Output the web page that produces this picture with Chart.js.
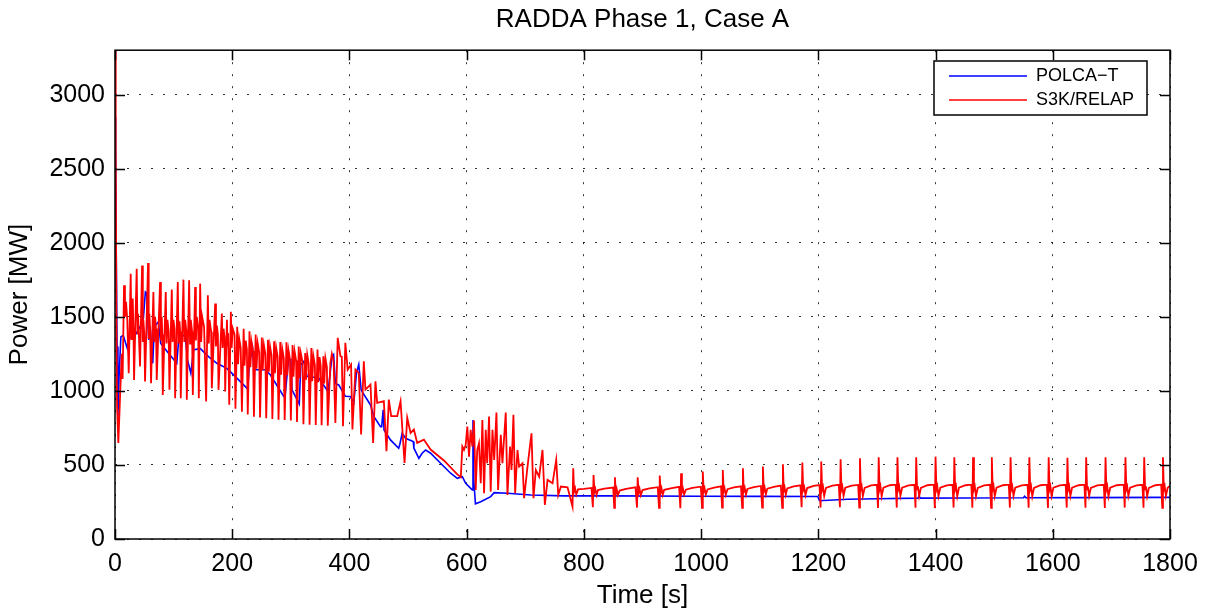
<!DOCTYPE html>
<html>
<head>
<meta charset="utf-8">
<title>RADDA Phase 1, Case A</title>
<script src="https://cdn.jsdelivr.net/npm/chart.js@4.4.1/dist/chart.umd.min.js"></script>
<style>
  html, body { margin: 0; padding: 0; background: #fff; }
  #wrap { width: 1210px; height: 614px; }
</style>
</head>
<body>
<div id="wrap"><canvas id="chart" width="1210" height="614"></canvas></div>
<script>
const FONT = "'Liberation Sans', Arial, Helvetica, sans-serif";
const TITLE = "RADDA Phase 1, Case A";
const X_LABEL = "Time [s]";
const Y_LABEL = "Power [MW]";
const SERIES_NAMES = ["POLCA\u2212T", "S3K/RELAP"];
const SERIES_COLORS = ["#0000ff", "#ff0000"];

const X_TICKS = [0, 200, 400, 600, 800, 1000, 1200, 1400, 1600, 1800];
const Y_TICKS = [0, 500, 1000, 1500, 2000, 2500, 3000];

// [time s, power MW]
const POLCA_T = [
  [0, 2848], [1, 2620], [2, 2000], [3.5, 1300], [5, 827], [7, 1100], [10, 1365], [14, 1376],
  [21, 1287], [24, 1365], [31, 1355], [43, 1433], [48.4, 1489], [51.8, 1668], [54, 1660],
  [57.5, 1343], [60, 1433], [64.4, 1186], [67, 1433], [74, 1466], [78, 1320], [90, 1260],
  [105.4, 1186], [109, 1365], [119.7, 1376], [123.7, 1209], [129.4, 1119], [134, 1276],
  [145.3, 1287], [159.5, 1231], [173.8, 1186], [190.9, 1152], [205, 1098], [226.7, 1012],
  [229, 1177], [234.6, 1290], [237, 1143], [256, 1143], [265, 1109], [288, 962], [290, 955],
  [296, 1211], [300, 1211], [302, 1007], [314.4, 912], [317, 1177], [322, 1199], [327.6, 1098],
  [347.5, 1087], [363.5, 996], [370.3, 1233], [373, 1245], [376, 1050], [381.7, 1040],
  [393, 964], [401.6, 962], [407.4, 919], [412, 1122], [415.9, 1178], [419.9, 1009],
  [421.6, 995], [436, 905], [441.6, 827], [453, 759], [455, 759], [457.5, 872], [459, 736],
  [470, 669], [484, 613], [486, 640], [490, 714], [495.7, 680], [508.8, 658], [510, 613],
  [518.5, 545], [524, 579], [530, 601], [538.5, 579], [555.5, 511], [572.6, 444], [584, 410],
  [592.6, 421], [598.3, 376], [604, 354], [609.7, 331], [610.8, 804], [612, 400], [615, 238],
  [624, 252], [641, 286], [646.8, 313], [669.6, 309], [709.5, 297], [766, 291], [846, 291],
  [1000, 289], [1100, 288], [1199, 287], [1202, 258], [1250, 268], [1300, 272], [1370, 276],
  [1372, 290], [1374, 276], [1450, 277], [1550, 278], [1552, 288], [1554, 278], [1650, 279],
  [1800, 281]
];

const S3K_RELAP = [
  [0, 2900], [0.8, 3600], [1.6, 2620], [2.5, 1400], [3.5, 900], [5.7, 648], [9, 1000],
  [11.5, 1250], [13, 1080], [15.4, 1713], [17, 1500], [18.8, 1601], [21, 1478], [23.4, 1119],
  [26.8, 1791], [28, 1350], [29, 1560], [30.2, 1623], [31.5, 1420], [32.5, 1074],
  [37, 1825], [38.5, 1380], [39.3, 1520], [41, 1350], [42.7, 1164],
  [46.2, 1847], [47.5, 1330], [48.4, 1480], [50, 1380], [51.3, 1063],
  [56.4, 1863], [57.5, 1350], [58.7, 1520], [60, 1400], [61.5, 1052],
  [65.5, 1668], [67, 1330], [68.4, 1500], [70, 1420], [71.2, 1074],
  [76.9, 1735], [78.3, 1340], [79.8, 1500], [80.6, 1380], [81.5, 973],
  [86.6, 1668], [88, 1320], [89.5, 1480], [91.5, 1400], [92.9, 1007],
  [96.9, 1684], [98.3, 1330], [99.7, 1480], [101.5, 1420], [102.6, 951],
  [107.1, 1735], [108.5, 1320], [110, 1470], [111.2, 1400], [112.2, 951],
  [116.8, 1751], [118.2, 1330], [119.7, 1480], [121.5, 1410], [122.5, 940],
  [126.5, 1747], [128, 1320], [129.3, 1480], [131.5, 1400], [132.8, 973],
  [136.7, 1702], [138, 1340], [139.6, 1500], [142, 1420], [143, 951],
  [145.3, 1724], [147, 1330], [148.7, 1500], [152, 1430], [155.5, 928],
  [158.4, 1646], [160, 1320], [161.3, 1480], [164, 1400], [165.2, 1018],
  [170.9, 1590], [172.3, 1300], [173.8, 1440], [175.5, 1380], [176.6, 1007],
  [182.3, 1522], [183.7, 1290], [185.2, 1420], [187, 1360], [188, 996],
  [191, 1480], [192, 1300], [193, 1390], [194.9, 906],
  [197.7, 1534], [199, 1290], [201, 1420], [204, 1380], [205.5, 880],
  [208.5, 1432], [210, 1180], [212, 1350], [214.5, 1290], [216.5, 860],
  [219.5, 1420], [221, 1170], [223, 1340], [225, 1280], [226.5, 840],
  [229.5, 1403], [231, 1160], [233, 1330], [235.5, 1270], [237, 826],
  [240, 1380], [241.5, 1150], [243.5, 1320], [246, 1260], [247.5, 820],
  [250.5, 1360], [252, 1140], [254, 1310], [256.5, 1250], [258, 815],
  [261, 1345], [262.5, 1130], [264.5, 1300], [267, 1240], [268.5, 810],
  [271.5, 1335], [273, 1120], [275, 1290], [277.5, 1230], [279, 806],
  [282, 1330], [283.5, 1110], [285.5, 1280], [288, 1220], [289.5, 804],
  [292.5, 1328], [294, 1105], [296, 1275], [298.5, 1215], [300, 800],
  [303, 1310], [304.5, 1095], [306.5, 1265], [309, 1205], [310.5, 790],
  [313.5, 1300], [315, 1085], [317, 1255], [320, 1195], [321.5, 775],
  [324.5, 1256], [326, 1075], [328, 1245], [330.5, 1185], [332, 772],
  [335, 1290], [336.5, 1065], [338.5, 1235], [341, 1175], [342.5, 770],
  [345.5, 1280], [347, 1058], [349, 1228], [351, 1168], [352.5, 768],
  [355.5, 1233], [357, 1050], [359, 1220], [361.5, 1160], [363, 765],
  [367.5, 1189], [370, 1250], [373, 1200], [376, 784], [380, 1358], [384.6, 1234], [387, 1230],
  [389, 761], [393, 1324], [397, 1144], [402.8, 1178], [405.1, 739], [410.2, 1144], [415.9, 1122],
  [419.9, 705], [424.5, 1200], [427.3, 1009], [435.9, 1043], [440.4, 649], [444.4, 1065],
  [447.3, 919], [458.7, 930], [463.2, 592], [467.2, 941], [471.2, 829], [481.5, 829], [487.2, 930],
  [494, 514], [498.6, 818], [504.3, 716], [510, 739], [515.6, 649], [527, 671], [538.4, 604],
  [561.2, 530], [584, 436], [590, 418], [592.6, 624], [595.4, 601], [598.3, 635], [601.1, 759],
  [604, 556], [606.8, 737], [609.7, 624], [612.5, 800], [615.4, 331], [618, 600], [621, 646],
  [624, 376], [626.8, 804], [629.7, 309], [632.5, 737], [635, 511], [638.2, 827], [641, 320],
  [644, 737], [647, 534], [650.8, 854], [653.6, 331], [658.2, 703], [661, 511], [666.7, 854],
  [669.6, 297], [674, 624], [676.5, 466], [679.8, 838], [682.7, 309], [686.7, 601], [689.5, 489],
  [695.2, 511], [698, 275], [703.8, 489], [710.6, 714], [714, 275], [718, 466], [723.7, 421],
  [729.4, 601], [733.4, 230], [738, 399], [746.5, 376], [752.8, 534], [756.2, 297], [760.8, 354],
  [772.1, 349],
  [780.6, 219], [781.8, 478], [783.3, 320], [785, 342], [787, 300], [790, 335], [800, 338], [813, 345],
  [815.3, 215], [816.5, 432], [818, 318], [819.5, 338], [821.5, 298], [824, 330], [835, 340], [850, 347],
  [851.8, 210], [853, 417], [854.5, 309], [856, 336], [858, 297], [861, 327], [872, 338], [888, 349],
  [890.6, 212], [891.8, 417], [893.3, 312], [895, 338], [897, 296], [900, 330], [912, 342], [926, 350],
  [928.2, 210], [929.4, 428], [931, 315], [932.5, 340], [934.5, 298], [937, 332], [950, 343], [962.5, 352],
  [964.6, 208], [965.8, 444], [967.3, 318], [969, 340], [971, 300], [974, 333], [985, 345], [999.5, 353],
  [1001.7, 210], [1002.9, 455], [1004.4, 320], [1006, 342], [1008, 300], [1011, 335], [1022, 347], [1034, 355],
  [1035.8, 212], [1037, 466], [1038.5, 322], [1040, 342], [1042, 298], [1045, 336], [1056, 348], [1068, 356],
  [1070.1, 210], [1071.3, 478], [1072.8, 322], [1074.5, 345], [1076.5, 300], [1079, 338], [1090, 350], [1102, 358],
  [1104.2, 212], [1105.4, 489], [1107, 325], [1108.5, 346], [1110.5, 302], [1113, 340], [1124, 352], [1136, 360],
  [1138.4, 210], [1139.6, 505], [1141, 326], [1142.5, 348], [1144.5, 300], [1147, 342], [1158, 355], [1169.5, 362],
  [1171.5, 214], [1172.7, 516], [1174.2, 330], [1176, 350], [1178, 296], [1181, 344], [1192, 358], [1202, 364],
  [1203.8, 212], [1205, 523], [1206.5, 332], [1208, 352], [1210, 290], [1213, 345], [1224, 360], [1235, 366],
  [1236.8, 214], [1238, 538], [1239.5, 334], [1241, 354], [1243, 292], [1246, 346], [1257, 360], [1268, 365],
  [1269.8, 212], [1271, 545], [1272.5, 335], [1274, 355], [1276, 290], [1279, 345], [1290, 362], [1300, 366],
  [1301.8, 210], [1303, 552], [1304.5, 334], [1306, 356], [1308, 288], [1311, 346], [1322, 363], [1332, 367],
  [1333.8, 212], [1335, 552], [1336.5, 336], [1338, 355], [1340, 291], [1343, 347], [1354, 362], [1364, 366],
  [1365.8, 211], [1367, 552], [1368.5, 335], [1370, 356], [1372, 289], [1375, 345], [1386, 363], [1397, 367],
  [1398.8, 210], [1400, 556], [1401.5, 334], [1403, 355], [1405, 290], [1408, 346], [1419, 362], [1429, 366],
  [1430.8, 212], [1432, 552], [1433.5, 336], [1435, 356], [1437, 288], [1440, 347], [1451, 363], [1461, 367],
  [1462.8, 211], [1464, 552], [1465.5, 335], [1467, 354], [1469, 290], [1472, 345], [1483, 362], [1493, 366],
  [1494.8, 210], [1496, 552], [1497.5, 334], [1499, 356], [1501, 289], [1504, 346], [1515, 363], [1525, 367],
  [1526.8, 212], [1528, 552], [1529.5, 336], [1531, 355], [1533, 291], [1536, 347], [1547, 362], [1557, 366],
  [1558.8, 211], [1560, 552], [1561.5, 335], [1563, 356], [1565, 288], [1568, 345], [1579, 363], [1590, 367],
  [1591.8, 210], [1593, 552], [1594.5, 334], [1596, 355], [1598, 290], [1601, 346], [1612, 362], [1622, 366],
  [1623.8, 212], [1625, 548], [1626.5, 336], [1628, 356], [1630, 289], [1633, 347], [1644, 363], [1654, 367],
  [1655.8, 211], [1657, 552], [1658.5, 335], [1660, 354], [1662, 291], [1665, 345], [1676, 362], [1687, 366],
  [1688.8, 210], [1690, 552], [1691.5, 334], [1693, 356], [1695, 288], [1698, 346], [1709, 363], [1721, 367],
  [1722.8, 212], [1724, 552], [1725.5, 336], [1727, 355], [1729, 290], [1732, 347], [1743, 362], [1753, 366],
  [1754.8, 211], [1756, 552], [1757.5, 335], [1759, 356], [1761, 289], [1764, 345], [1775, 363], [1785, 367],
  [1786.8, 210], [1788, 552], [1789.5, 334], [1791, 355], [1793, 290], [1796, 346], [1800, 358]
];

function toPoints(rows) {
  return rows.map(([t, p]) => ({ x: t, y: p }));
}

// matlab style box, inward ticks and the legend drawn over the axes
const axesBox = {
  id: "axesBox",
  afterDatasetsDraw(chart) {
    const { ctx, chartArea: a, scales } = chart;
    const xs = scales.x, ys = scales.y;
    ctx.save();
    ctx.strokeStyle = "#000";
    ctx.lineWidth = 1.5;
    ctx.beginPath();
    X_TICKS.forEach((v) => {
      const px = Math.round(xs.getPixelForValue(v)) + 0.5;
      ctx.moveTo(px, a.bottom); ctx.lineTo(px, a.bottom - 10);
      ctx.moveTo(px, a.top); ctx.lineTo(px, a.top + 10);
    });
    Y_TICKS.forEach((v) => {
      const py = Math.round(ys.getPixelForValue(v)) + 0.5;
      ctx.moveTo(a.left, py); ctx.lineTo(a.left + 10, py);
      ctx.moveTo(a.right, py); ctx.lineTo(a.right - 10, py);
    });
    ctx.stroke();
    ctx.strokeRect(a.left, a.top, a.right - a.left, a.bottom - a.top);

    // legend
    const lx = 934, ly = 61, lw = 213, lh = 54;
    ctx.fillStyle = "#fff";
    ctx.fillRect(lx, ly, lw, lh);
    ctx.lineWidth = 1.5;
    ctx.strokeRect(lx, ly, lw, lh);
    ctx.font = "18px " + FONT;
    ctx.textBaseline = "middle";
    SERIES_NAMES.forEach((name, i) => {
      const yy = ly + 15 + i * 24;
      ctx.strokeStyle = SERIES_COLORS[i];
      ctx.lineWidth = 1.5;
      ctx.beginPath();
      ctx.moveTo(949, yy); ctx.lineTo(1027, yy);
      ctx.stroke();
      ctx.fillStyle = "#000";
      ctx.fillText(name, 1036, yy);
    });
    ctx.restore();
  }
};

const gridStyle = {
  color: "rgba(0,0,0,0.8)",
  lineWidth: 1,
  drawTicks: false
};

new Chart(document.getElementById("chart"), {
  type: "line",
  data: {
    datasets: [
      {
        label: SERIES_NAMES[0],
        data: toPoints(POLCA_T),
        borderColor: SERIES_COLORS[0],
        borderWidth: 1.6,
        pointRadius: 0,
        tension: 0,
        order: 1
      },
      {
        label: SERIES_NAMES[1],
        data: toPoints(S3K_RELAP),
        borderColor: SERIES_COLORS[1],
        borderWidth: 1.8,
        pointRadius: 0,
        tension: 0,
        order: 0
      }
    ]
  },
  options: {
    responsive: false,
    animation: false,
    parsing: false,
    layout: { padding: { left: 0, right: 40, top: 0, bottom: 0 } },
    plugins: {
      legend: { display: false },
      tooltip: { enabled: false },
      title: {
        display: true,
        text: TITLE,
        fullSize: false,
        color: "#000",
        font: { family: FONT, size: 26, weight: "normal", lineHeight: 1.2 },
        padding: { top: 4, bottom: 15 }
      }
    },
    scales: {
      x: {
        type: "linear",
        min: 0,
        max: 1800,
        afterBuildTicks: (s) => { s.ticks = X_TICKS.map((v) => ({ value: v })); },
        afterFit: (s) => { s.height = 75; },
        grid: gridStyle,
        border: { display: false, dash: [2, 10] },
        ticks: {
          color: "#000", padding: 10, maxRotation: 0,
          font: { family: FONT, size: 25 },
          callback: (v) => String(v)
        },
        title: {
          display: true,
          text: X_LABEL,
          color: "#000",
          font: { family: FONT, size: 26 },
          padding: { top: 0, bottom: 3 }
        }
      },
      y: {
        type: "linear",
        min: 0,
        max: 3300,
        afterBuildTicks: (s) => { s.ticks = Y_TICKS.map((v) => ({ value: v })); },
        afterFit: (s) => { s.width = 115; },
        grid: gridStyle,
        border: { display: false, dash: [2, 10] },
        ticks: {
          color: "#000", padding: 10,
          font: { family: FONT, size: 25 },
          callback: (v) => String(v)
        },
        title: {
          display: true,
          text: Y_LABEL,
          color: "#000",
          font: { family: FONT, size: 26 },
          padding: { top: 4, bottom: 0 }
        }
      }
    }
  },
  plugins: [axesBox]
});
</script>
</body>
</html>
